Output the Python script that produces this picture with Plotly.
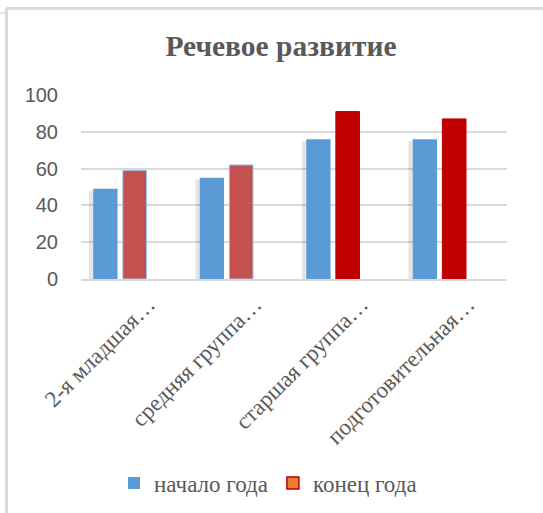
import plotly.graph_objects as go

categories = ["2-я младшая…", "средняя группа…", "старшая группа…", "подготовительная…"]
start_year = [49, 55, 76, 76]
end_year = [59, 62, 91, 87]
series_names = ["начало года", "конец года"]
title_text = "Речевое развитие"
y_ticks = [0, 20, 40, 60, 80, 100]

W, H = 543, 513
L, R, T, B = 81, 36, 95, 234
pw, ph = W - L - R, H - T - B

def px(x):
    return (x - L) / pw

def py(y):
    return (H - B - y) / ph

blue = "#5b9bd5"
red_cols = ["#c4514f", "#c4514f", "#c00000", "#c00000"]
red_lines = ["#9dc3e6", "#9dc3e6", "#c00000", "#c00000"]

fig = go.Figure()

# soft shadows behind the blue bars
fig.add_trace(go.Bar(
    x=categories, y=[v - 1 for v in start_year],
    offset=-0.285, width=0.24,
    marker=dict(color="rgba(0,0,0,0.10)", line=dict(width=0)),
    showlegend=False, hoverinfo="skip"))

fig.add_trace(go.Bar(
    x=categories, y=start_year, name=series_names[0],
    offset=-0.245, width=0.228,
    marker=dict(color=blue, line=dict(width=0)),
    showlegend=True))

fig.add_trace(go.Bar(
    x=categories, y=end_year, name=series_names[1],
    offset=0.033, width=0.222,
    marker=dict(color=red_cols, line=dict(color=red_lines, width=1)),
    showlegend=False))

# legend entry for the second series (orange icon with red outline)
fig.add_trace(go.Bar(
    x=[categories[0]], y=[None], name=series_names[1],
    marker=dict(color="#ed7d31", line=dict(color="#c00000", width=1.5)),
    showlegend=True))

frame = "#d9d9d9"
shapes = [
    dict(type="line", xref="paper", yref="paper",
         x0=px(6.5), x1=px(6.5), y0=py(8.5), y1=py(H + 5), line=dict(color=frame, width=3)),
    dict(type="line", xref="paper", yref="paper",
         x0=px(6.5), x1=px(W + 5), y0=py(8.5), y1=py(8.5), line=dict(color=frame, width=3)),
    dict(type="line", xref="paper", yref="paper",
         x0=px(-5), x1=px(6.5), y0=py(13), y1=py(13), line=dict(color=frame, width=1.5)),
]

fig.update_layout(
    width=W, height=H,
    margin=dict(l=L, r=R, t=T, b=B, pad=0, autoexpand=False),
    paper_bgcolor="white", plot_bgcolor="white",
    barmode="overlay",
    title=dict(text=title_text, x=281 / W, xanchor="center", xref="container",
               y=1 - 46 / H, yanchor="middle", yref="container",
               font=dict(family="Liberation Serif", size=29.5, color="#595959", weight="bold")),
    xaxis=dict(type="category", range=[-0.36, 3.64], tickangle=-45, automargin=False,
               ticklabelshift=29, ticklabelstandoff=1,
               showgrid=False, showline=True, linecolor="#d9d9d9", linewidth=1.5,
               ticks="", tickfont=dict(family="Liberation Serif", size=23, color="#595959")),
    yaxis=dict(range=[0, 100], tickvals=y_ticks, showgrid=True, gridcolor="#d9d9d9",
               gridwidth=1.5, zeroline=False, showline=False, ticks="", automargin=False,
               ticklabelstandoff=22,
               tickfont=dict(family="Liberation Sans", size=20, color="#595959")),
    legend=dict(orientation="h", x=268 / W, xanchor="center", xref="container",
                y=1 - 483 / H, yanchor="middle", yref="container",
                font=dict(family="Liberation Serif", size=23, color="#595959"),
                itemwidth=30, traceorder="normal"),
    shapes=shapes,
    showlegend=True,
)

fig.write_html("out.html", config={"displayModeBar": False},
               post_script="document.body.style.margin='0';document.body.style.overflow='hidden';")
